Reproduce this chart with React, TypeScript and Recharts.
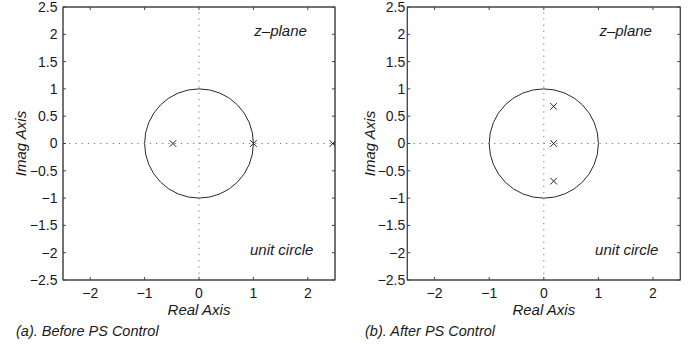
import React from "react";
import {
  ScatterChart,
  Scatter,
  XAxis,
  YAxis,
  ReferenceLine,
  ReferenceArea,
  ReferenceDot,
  Label,
} from "recharts";

// Pole locations (real, imaginary) in the z-plane
const polesBefore = [
  { re: -0.48, im: 0 },
  { re: 1.0, im: 0 },
  { re: 2.46, im: 0 },
];
const polesAfter = [
  { re: 0.18, im: 0.68 },
  { re: 0.18, im: 0 },
  { re: 0.18, im: -0.69 },
];

const realTicks = [-2, -1, 0, 1, 2];
const imagTicks = [-2.5, -2, -1.5, -1, -0.5, 0, 0.5, 1, 1.5, 2, 2.5];
const axisDomain: [number, number] = [-2.5, 2.5];

// Unit circle spans [-1, 1] on both axes
const unitBox = { x1: -1, x2: 1, y1: -1, y2: 1 };

const planeLabel = { text: "z\u2013plane", re: 1.5, im: 2.06 };
const circleLabel = { text: "unit circle", re: 1.52, im: -1.95 };

const FONT = "'Liberation Sans', Arial, Helvetica, sans-serif";
const INK = "#1a1a1a";
const BOX = "#444";
const TICK_LEN = 3;

const fmt = (v: number) => String(v).replace("-", "\u2212");

const XMark = (props: any) => {
  const { cx, cy } = props;
  const s = 3.3;
  return (
    <g stroke="#222" strokeWidth={1}>
      <line x1={cx - s} y1={cy - s} x2={cx + s} y2={cy + s} />
      <line x1={cx - s} y1={cy + s} x2={cx + s} y2={cy - s} />
    </g>
  );
};

// Draws the unit circle from its [-1,1] box, plus the full axes box with
// inward ticks on the top and right sides, using the same per-unit scale.
const UnitCircleAndFrame = (props: any) => {
  const x = Number(props.x);
  const y = Number(props.y);
  const width = Math.abs(Number(props.width));
  const height = Math.abs(Number(props.height));
  const cx = x + width / 2;
  const cy = y + height / 2;
  const ux = width / (unitBox.x2 - unitBox.x1);
  const uy = height / (unitBox.y2 - unitBox.y1);
  const [d0, d1] = axisDomain;
  const left = cx + d0 * ux;
  const right = cx + d1 * ux;
  const top = cy - d1 * uy;
  const bottom = cy - d0 * uy;
  const tickPath =
    realTicks.map((t) => `M${cx + t * ux},${top}V${top + TICK_LEN}`).join("") +
    imagTicks.map((t) => `M${right - TICK_LEN},${cy - t * uy}H${right}`).join("");
  return (
    <g>
      <ellipse
        cx={cx}
        cy={cy}
        rx={width / 2}
        ry={height / 2}
        fill="none"
        stroke="#2a2a2a"
        strokeWidth={1}
      />
      <rect
        x={left}
        y={top}
        width={right - left}
        height={bottom - top}
        fill="none"
        stroke={BOX}
        strokeWidth={1}
      />
      <path d={tickPath} fill="none" stroke={BOX} strokeWidth={1} />
    </g>
  );
};

type PanelProps = {
  poles: { re: number; im: number }[];
  caption: string;
  left: number;
  width: number;
  yAxisWidth: number;
  yTickMargin: number;
  marginRight: number;
};

const Panel = ({ poles, caption, left, width, yAxisWidth, yTickMargin, marginRight }: PanelProps) => {
  const tickStyle = { fontSize: 14, fill: INK, fontFamily: FONT };
  return (
    <div style={{ position: "absolute", left, top: 0 }}>
      <ScatterChart
        width={width}
        height={347}
        margin={{ top: 7, right: marginRight, bottom: 37, left: 0 }}
      >
        <XAxis
          type="number"
          dataKey="re"
          domain={axisDomain}
          ticks={realTicks}
          allowDataOverflow
          orientation="bottom"
          height={30}
          tickSize={-TICK_LEN}
          tickMargin={11}
          tickFormatter={fmt}
          tick={tickStyle}
          stroke={BOX}
          tickLine={{ stroke: BOX }}
          interval={0}
        >
          <Label
            content={({ viewBox }: any) => (
              <g fontFamily={FONT} fontStyle="italic" fill={INK} fontSize={15}>
                <text x={viewBox.x + viewBox.width / 2} y={315} textAnchor="middle">
                  Real Axis
                </text>
                <text x={16} y={336} textAnchor="start" fontSize={14.5}>
                  {caption}
                </text>
              </g>
            )}
          />
        </XAxis>
        <YAxis
          type="number"
          dataKey="im"
          domain={axisDomain}
          ticks={imagTicks}
          allowDataOverflow
          orientation="left"
          width={yAxisWidth}
          tickSize={-TICK_LEN}
          tickMargin={yTickMargin}
          tickFormatter={fmt}
          tick={tickStyle}
          stroke={BOX}
          tickLine={{ stroke: BOX }}
          interval={0}
        >
          <Label
            content={({ viewBox }: any) => {
              const cx = 25.5;
              const cy = viewBox.y + viewBox.height / 2;
              return (
                <text
                  x={cx}
                  y={cy}
                  transform={`rotate(-90 ${cx} ${cy})`}
                  textAnchor="middle"
                  fontFamily={FONT}
                  fontStyle="italic"
                  fontSize={15}
                  fill={INK}
                >
                  Imag Axis
                </text>
              );
            }}
          />
        </YAxis>
        <ReferenceLine x={0} stroke="#777" strokeDasharray="1.2 5" />
        <ReferenceLine y={0} stroke="#777" strokeDasharray="1.2 5" />
        {/* top and right sides of the axes box */}
        <ReferenceLine y={axisDomain[1]} stroke={BOX} ifOverflow="visible" />
        <ReferenceLine x={axisDomain[1]} stroke={BOX} ifOverflow="visible" />
        <ReferenceArea {...unitBox} ifOverflow="visible" shape={<UnitCircleAndFrame />} />
        <ReferenceDot
          x={planeLabel.re}
          y={planeLabel.im}
          r={0}
          fill="none"
          stroke="none"
        >
          <Label
            value={planeLabel.text}
            position="center"
            fontSize={15}
            fontStyle="italic"
            fontFamily={FONT}
            fill={INK}
          />
        </ReferenceDot>
        <ReferenceDot
          x={circleLabel.re}
          y={circleLabel.im}
          r={0}
          fill="none"
          stroke="none"
        >
          <Label
            value={circleLabel.text}
            position="center"
            fontSize={15}
            fontStyle="italic"
            fontFamily={FONT}
            fill={INK}
          />
        </ReferenceDot>
        <Scatter data={poles} shape={<XMark />} isAnimationActive={false} />
      </ScatterChart>
    </div>
  );
};

export default function App() {
  return (
    <div
      style={{
        position: "absolute",
        left: 0,
        top: 0,
        width: 698,
        height: 347,
        background: "#fff",
      }}
    >
      <Panel
        poles={polesBefore}
        caption="(a). Before PS Control"
        left={0}
        width={349}
        yAxisWidth={63}
        yTickMargin={8.5}
        marginRight={14}
      />
      <Panel
        poles={polesAfter}
        caption="(b). After PS Control"
        left={349}
        width={349}
        yAxisWidth={58.3}
        yTickMargin={5}
        marginRight={17.7}
      />
    </div>
  );
}
